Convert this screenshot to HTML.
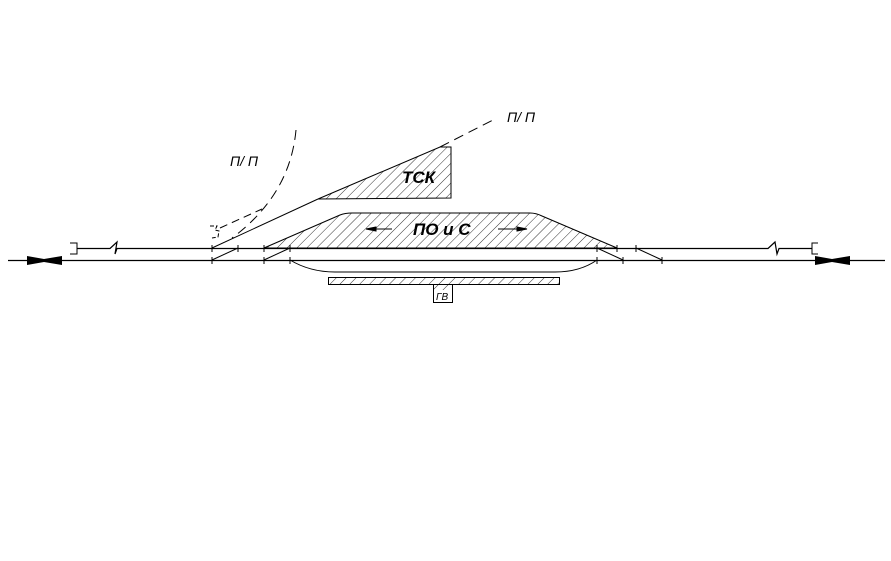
<!DOCTYPE html>
<html><head><meta charset="utf-8"><style>body{margin:0;background:#fff}svg{display:block}</style></head>
<body>
<svg width="891" height="561" viewBox="0 0 891 561" xmlns="http://www.w3.org/2000/svg">
<defs>
<pattern id="h" patternUnits="userSpaceOnUse" width="7" height="7" patternTransform="rotate(45)">
<line x1="0" y1="0" x2="0" y2="7" stroke="#000" stroke-width="0.8"/>
</pattern>
</defs>
<g stroke="#000" fill="none" stroke-width="1">
<line x1="8" y1="260.5" x2="885" y2="260.5" stroke-width="1.2"/>
<polyline points="77,248.5 108,248.5 110,248.5 117,242 115,254 117,248.5 768,248.5 775,242 777,254 779,248.5 812,248.5" stroke-width="1.2"/>
<polyline points="70,243 77,243 77,254 70,254"/>
<polyline points="818,243 812,243 812,254 818,254"/>
<polygon points="27,256 44,259 62,256 62,265 44,262 27,265" fill="#000" stroke="none"/>
<polygon points="815,256 832,259 850,256 850,265 832,262 815,265" fill="#000" stroke="none"/>
<g>
<line x1="212" y1="245" x2="212" y2="252"/><line x1="212" y1="257" x2="212" y2="264"/>
<line x1="238" y1="245" x2="238" y2="252"/>
<line x1="264" y1="245" x2="264" y2="252"/><line x1="264" y1="257" x2="264" y2="264"/>
<line x1="290" y1="245" x2="290" y2="252"/><line x1="290" y1="257" x2="290" y2="264"/>
<line x1="597" y1="245" x2="597" y2="252"/><line x1="597" y1="257" x2="597" y2="264"/>
<line x1="617" y1="245" x2="617" y2="252"/><line x1="623" y1="257" x2="623" y2="264"/>
<line x1="636" y1="245" x2="636" y2="252"/><line x1="662" y1="257" x2="662" y2="264"/>
</g>
<line x1="212" y1="260" x2="238" y2="248"/>
<line x1="264" y1="260" x2="290" y2="248"/>
<line x1="597" y1="248" x2="623" y2="260"/>
<line x1="636" y1="248" x2="662" y2="260"/>
<line x1="212" y1="248" x2="318" y2="199"/>
<polygon points="318,199 440,147 451,147 451,198" fill="url(#h)"/>
<line x1="440" y1="147" x2="497" y2="118" stroke-dasharray="10,6"/>
<path d="M264,248 L340,215 Q345,213 352,213 L530,213 Q536,213 542,216 L617,248 Z" fill="url(#h)"/>
<path d="M290,260 Q310,272 335,272 L555,272 Q580,272 597,260"/>
<rect x="328.5" y="277.5" width="231" height="7" fill="url(#h)"/>
<rect x="433.5" y="284.5" width="19" height="18" fill="#fff"/>
<rect x="434" y="285" width="18" height="5" fill="url(#h)" stroke="none"/>
<path d="M296,130 Q290,195 232,238" stroke-dasharray="10,6"/>
<line x1="220" y1="228" x2="262" y2="209" stroke-dasharray="8,5"/>
<polyline points="210,226 217,226 215,230 219,231 218,237 212,238" stroke-dasharray="4,2"/>
<line x1="368" y1="229" x2="392" y2="229"/>
<polygon points="366,229 376,227 376,231" fill="#000"/>
<line x1="498" y1="229" x2="526" y2="229"/>
<polygon points="527,229 517,227 517,231" fill="#000"/>
</g>
<g font-family="Liberation Sans, sans-serif" font-style="italic">
<text x="402" y="183" font-size="17" font-weight="bold">ТСК</text>
<text x="413" y="235" font-size="17" font-weight="bold">ПО и С</text>
<text x="436" y="300" font-size="10">ГВ</text>
<text x="230" y="166" font-size="14">П/ П</text>
<text x="507" y="122" font-size="14">П/ П</text>
</g>
</svg>
</body></html>
